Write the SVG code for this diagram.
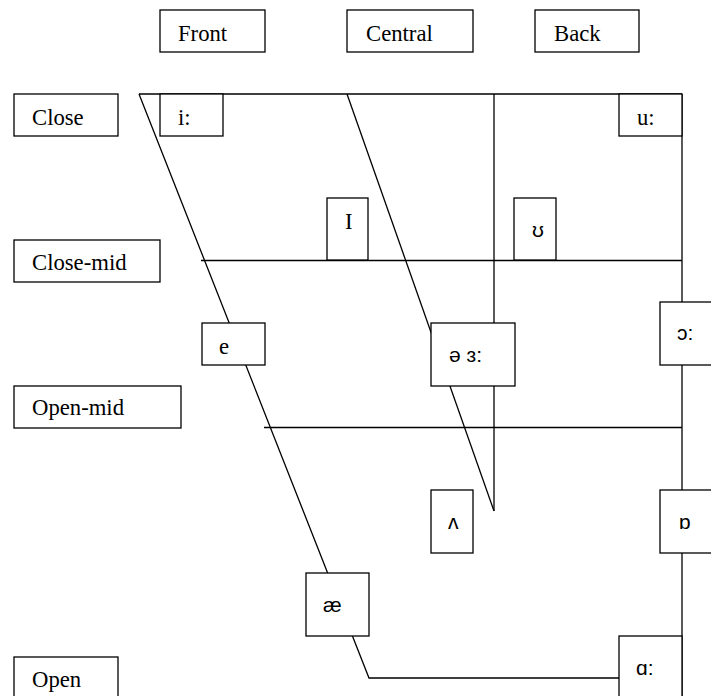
<svg xmlns="http://www.w3.org/2000/svg" width="711" height="696" viewBox="0 0 711 696">
<style>
  .bx { fill: #ffffff; stroke: #000000; stroke-width: 1.3; }
  .ln { fill: none; stroke: #000000; stroke-width: 1.3; }
  .sr { font-family: "Liberation Serif", "Times New Roman", serif; font-size: 22.7px; fill: #000000; }
  .ss { font-family: "Liberation Sans", "DejaVu Sans", Arial, sans-serif; font-size: 21px; fill: #000000; }
</style>
<rect width="711" height="696" fill="#ffffff"/>
<g id="connectors">
  <line class="ln" x1="139" y1="94" x2="682" y2="94"/>
  <line class="ln" x1="682" y1="94" x2="682" y2="700"/>
  <line class="ln" x1="494" y1="94" x2="494" y2="511"/>
  <line class="ln" x1="201" y1="260.5" x2="682" y2="260.5"/>
  <line class="ln" x1="264" y1="427.5" x2="682" y2="427.5"/>
  <polyline class="ln" points="139,94 369,678 619,678"/>
  <line class="ln" x1="347" y1="94" x2="494" y2="511"/>
</g>
<g id="front"><rect class="bx" x="160" y="10" width="105" height="42"/><text class="sr" x="178" y="41">Front</text></g>
<g id="central"><rect class="bx" x="347" y="10" width="126" height="42"/><text class="sr" x="366" y="41">Central</text></g>
<g id="back"><rect class="bx" x="535" y="10" width="104" height="42"/><text class="sr" x="554" y="41">Back</text></g>
<g id="close"><rect class="bx" x="14" y="94" width="104" height="42"/><text class="sr" x="32" y="125">Close</text></g>
<g id="close-mid"><rect class="bx" x="14" y="240" width="146" height="42"/><text class="sr" x="32" y="269.5">Close-mid</text></g>
<g id="open-mid"><rect class="bx" x="14" y="386" width="167" height="42"/><text class="sr" x="32" y="415">Open-mid</text></g>
<g id="open"><rect class="bx" x="14" y="657" width="104" height="42"/><text class="sr" x="32" y="687">Open</text></g>
<g id="v-i"><rect class="bx" x="160" y="94" width="63" height="42"/><text class="sr" x="178" y="125">i:</text></g>
<g id="v-u"><rect class="bx" x="619" y="94" width="63" height="42"/><text class="sr" x="637" y="125">u:</text></g>
<g id="v-I"><rect class="bx" x="327" y="198" width="41" height="62"/><text class="sr" x="345" y="229">I</text></g>
<g id="v-upsilon"><rect class="bx" x="514" y="198" width="42" height="62"/><text class="ss" x="532" y="237">ʊ</text></g>
<g id="v-e"><rect class="bx" x="202" y="323" width="63" height="42"/><text class="sr" x="219" y="353.5">e</text></g>
<g id="v-schwa"><rect class="bx" x="431" y="323" width="84" height="63"/><text class="ss" x="449" y="362">ə ɜ:</text></g>
<g id="v-openo"><rect class="bx" x="660" y="302" width="52" height="63"/><text class="ss" x="677" y="340">ɔ:</text></g>
<g id="v-wedge"><rect class="bx" x="431" y="490" width="42" height="63"/><text class="ss" x="448" y="529">ʌ</text></g>
<g id="v-turneda"><rect class="bx" x="660" y="490" width="52" height="63"/><text class="ss" x="679" y="529">ɒ</text></g>
<g id="v-ae"><rect class="bx" x="306" y="573" width="63" height="63"/><text class="ss" x="323" y="612">æ</text></g>
<g id="v-alpha"><rect class="bx" x="619" y="636" width="63" height="63"/><text class="ss" x="636" y="675">ɑ:</text></g>
</svg>
